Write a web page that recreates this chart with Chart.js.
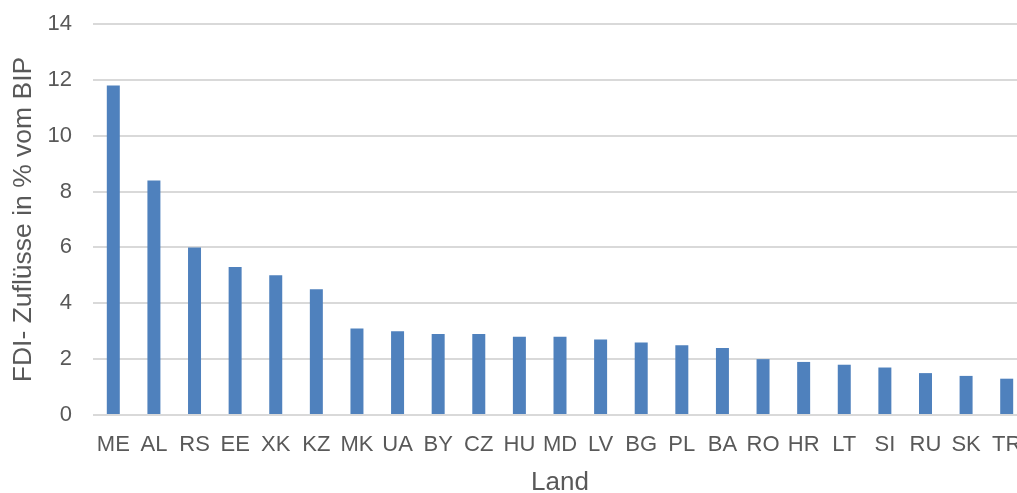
<!DOCTYPE html>
<html>
<head>
<meta charset="utf-8">
<script src="https://cdn.jsdelivr.net/npm/chart.js@4/dist/chart.umd.min.js"></script>
<style>
  html, body { margin: 0; padding: 0; background: #fff; overflow: hidden; }
  #wrap { position: relative; width: 1027px; height: 493px; }
</style>
</head>
<body>
<div id="wrap"><canvas id="chart"></canvas></div>
<script>
// FDI inflows as share of GDP by country
const categories = ['ME','AL','RS','EE','XK','KZ','MK','UA','BY','CZ','HU','MD','LV','BG','PL','BA','RO','HR','LT','SI','RU','SK','TR'];
const fdiValues  = [11.8, 8.4, 6.0, 5.3, 5.0, 4.5, 3.1, 3.0, 2.9, 2.9, 2.8, 2.8, 2.7, 2.6, 2.5, 2.4, 2.0, 1.9, 1.8, 1.7, 1.5, 1.4, 1.3];
const yTicks     = [0, 2, 4, 6, 8, 10, 12, 14];

const textColor = '#595959';
const fontFamily = '"Liberation Sans", Arial, sans-serif';

new Chart(document.getElementById('chart'), {
  type: 'bar',
  data: {
    labels: categories,
    datasets: [{
      data: fdiValues,
      backgroundColor: '#4f81bd',
      borderWidth: 0,
      barPercentage: 0.32,
      categoryPercentage: 1.0
    }]
  },
  options: {
    responsive: true,
    maintainAspectRatio: false,
    animation: false,
    layout: { padding: { top: 24, right: 0, bottom: 0, left: 8 } },
    plugins: { legend: { display: false }, tooltip: { enabled: false } },
    scales: {
      x: {
        afterFit: (scale) => { scale.height = 78; scale.paddingLeft = 0; scale.paddingRight = 0; },
        grid: { display: false },
        border: { display: false },
        ticks: {
          color: textColor,
          font: { family: fontFamily, size: 22 },
          padding: 9,
          maxRotation: 0,
          autoSkip: false
        },
        title: {
          display: true,
          text: 'Land',
          color: textColor,
          font: { family: fontFamily, size: 26, lineHeight: 0.75 },
          padding: { top: 0, bottom: 0 }
        }
      },
      y: {
        min: 0,
        max: 14,
        afterFit: (scale) => { scale.width = 85; scale.paddingTop = 0; scale.paddingBottom = 0; },
        afterBuildTicks: (axis) => { axis.ticks = yTicks.map(v => ({ value: v })); },
        grid: { color: '#d9d9d9', lineWidth: 2, drawTicks: false },
        border: { display: false },
        ticks: {
          color: textColor,
          font: { family: fontFamily, size: 22 },
          padding: 21
        },
        title: {
          display: true,
          text: 'FDI- Zuflüsse in % vom BIP',
          color: textColor,
          font: { family: fontFamily, size: 26.5 },
          padding: { top: 0, bottom: 0 }
        }
      }
    }
  }
});
</script>
</body>
</html>
